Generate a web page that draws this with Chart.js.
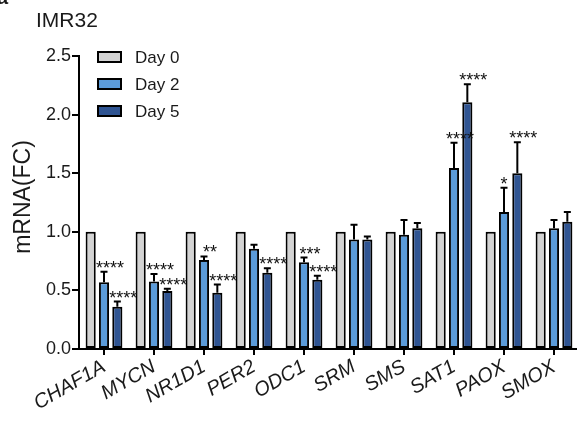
<!DOCTYPE html>
<html>
<head>
<meta charset="utf-8">
<script src="https://cdn.jsdelivr.net/npm/chart.js@4"></script>
<style>
  html, body { margin: 0; padding: 0; background: #fff; overflow: hidden; }
  #wrap { width: 577px; height: 423px; overflow: hidden; }
  #wrap canvas { display: block; }
</style>
</head>
<body>
<div id="wrap"><canvas id="chart" width="582" height="423"></canvas></div>
<script>
// ======== DATA ========
const genes = ['CHAF1A', 'MYCN', 'NR1D1', 'PER2', 'ODC1', 'SRM', 'SMS', 'SAT1', 'PAOX', 'SMOX'];
const seriesNames = ['Day 0', 'Day 2', 'Day 5'];

const day0 = [1, 1, 1, 1, 1, 1, 1, 1, 1, 1];
const day2 = [0.57, 0.575, 0.76, 0.855, 0.74, 0.935, 0.975, 1.545, 1.17, 1.03];
const day5 = [0.36, 0.495, 0.48, 0.65, 0.59, 0.935, 1.03, 2.105, 1.50, 1.085];

// upper error (SD)
const day2Err = [0.09, 0.065, 0.03, 0.035, 0.04, 0.125, 0.125, 0.215, 0.205, 0.07];
const day5Err = [0.045, 0.02, 0.07, 0.04, 0.035, 0.025, 0.045, 0.155, 0.265, 0.085];

// significance marks
const day2Sig = ['****', '****', '**', '', '***', '', '', '****', '*', ''];
const day5Sig = ['****', '****', '****', '****', '****', '', '', '****', '****', ''];

const yTicks = [0, 0.5, 1.0, 1.5, 2.0, 2.5];

const colors = ['#d3d3d3', '#5b9bd9', '#2f5492'];
const FONT = 'Arial, "Liberation Sans", sans-serif';

// ======== PLUGIN: error bars, stars, title, legend ========
const extras = {
    id: 'extras',
    afterDatasetsDraw(chart) {
        const ctx = chart.ctx;
        const y = chart.scales.y;
        const errs = [null, day2Err, day5Err];
        const sigs = [null, day2Sig, day5Sig];
        ctx.save();
        ctx.strokeStyle = '#000';
        ctx.fillStyle = '#111';
        ctx.lineWidth = 2;
        for (let d = 1; d <= 2; d++) {
            const meta = chart.getDatasetMeta(d);
            const vals = chart.data.datasets[d].data;
            meta.data.forEach((bar, i) => {
                const top = y.getPixelForValue(vals[i] + errs[d][i]);
                ctx.beginPath();
                ctx.moveTo(bar.x, bar.y);
                ctx.lineTo(bar.x, top);
                ctx.moveTo(bar.x - 3.5, top);
                ctx.lineTo(bar.x + 3.5, top);
                ctx.stroke();
                const s = sigs[d][i];
                if (s) {
                    ctx.font = '18px ' + FONT;
                    ctx.textAlign = 'center';
                    ctx.textBaseline = 'alphabetic';
                    const cx = bar.x + (s.length > 1 ? 6 : 0);
                    ctx.fillText(s, cx, top + 2);
                }
            });
        }
        ctx.restore();
    },
    afterDraw(chart) {
        const ctx = chart.ctx;
        ctx.save();
        ctx.fillStyle = '#1a1a1a';
        // panel letter (cut off)
        ctx.font = 'bold 20px ' + FONT;
        ctx.textBaseline = 'alphabetic';
        ctx.textAlign = 'left';
        ctx.fillText('a', -3, 4);
        // title
        ctx.font = '21px ' + FONT;
        ctx.fillText('IMR32', 36, 27);
        // y title
        ctx.save();
        ctx.translate(24, 197);
        ctx.rotate(-Math.PI / 2);
        ctx.textAlign = 'center';
        ctx.textBaseline = 'middle';
        ctx.font = '23px ' + FONT;
        ctx.fillText('mRNA(FC)', 0, 0);
        ctx.restore();
        // legend
        const rows = [57, 84, 111];
        ctx.font = '17px ' + FONT;
        ctx.textBaseline = 'middle';
        seriesNames.forEach((name, i) => {
            ctx.fillStyle = colors[i];
            ctx.fillRect(98, rows[i] - 5, 23, 10);
            ctx.strokeStyle = '#000';
            ctx.lineWidth = 2;
            ctx.strokeRect(98, rows[i] - 5, 23, 10);
            ctx.fillStyle = '#1a1a1a';
            ctx.fillText(name, 135, rows[i] + 1);
        });
        ctx.restore();
    }
};

// ======== CHART ========
const ctx = document.getElementById('chart').getContext('2d');
new Chart(ctx, {
    type: 'bar',
    data: {
        labels: genes,
        datasets: [day0, day2, day5].map((d, i) => ({
            label: seriesNames[i],
            data: d,
            backgroundColor: colors[i],
            borderColor: '#000',
            borderWidth: 2,
            borderSkipped: false,
            categoryPercentage: 0.8,
            barPercentage: 0.76
        }))
    },
    options: {
        responsive: false,
        animation: false,
        layout: { padding: { top: 56, right: 3, bottom: 0, left: 0 } },
        plugins: { legend: { display: false }, tooltip: { enabled: false } },
        scales: {
            x: {
                grid: { display: true, offset: false, drawOnChartArea: false, tickLength: 6, color: '#000', lineWidth: 2 },
                border: { display: true, color: '#000', width: 2 },
                ticks: {
                    color: '#1a1a1a',
                    font: { family: FONT, size: 20, style: 'italic' },
                    minRotation: 30, maxRotation: 30, padding: 0, autoSkip: false
                },
                afterFit(scale) { scale.height = 74; }
            },
            y: {
                min: 0, max: 2.5,
                afterBuildTicks(scale) { scale.ticks = yTicks.map(v => ({ value: v })); },
                grid: { display: true, drawOnChartArea: false, tickLength: 7, color: '#000', lineWidth: 2 },
                border: { display: true, color: '#000', width: 2 },
                ticks: {
                    color: '#1a1a1a',
                    font: { family: FONT, size: 18 },
                    padding: 1,
                    callback: v => v.toFixed(1)
                },
                afterFit(scale) { scale.width = 79; }
            }
        }
    },
    plugins: [extras]
});
</script>
</body>
</html>
